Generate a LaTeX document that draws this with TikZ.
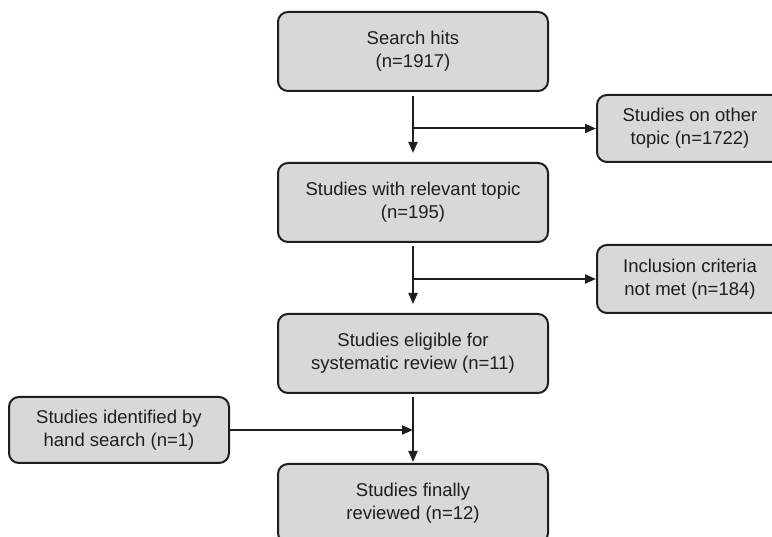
\documentclass[tikz,border=0pt]{standalone}
\usepackage{fontspec}
\setmainfont{Liberation Sans}
\usetikzlibrary{arrows.meta}
\definecolor{boxfill}{RGB}{216,216,216}
\definecolor{ink}{RGB}{30,30,30}
\tikzset{
  flowbox/.style={draw=ink, fill=boxfill, line width=2pt, rounded corners=10pt,
    align=center, text=ink, inner sep=0pt,
    font=\fontsize{18.5}{23}\selectfont},
  conn/.style={draw=ink, line width=2pt, -{Triangle[length=11pt,width=9pt]}},
  plain/.style={draw=ink, line width=2pt},
}
\begin{document}
\begin{tikzpicture}[x=1pt,y=-1pt]
\useasboundingbox (0,0) rectangle (772,537);
\clip (0,0) rectangle (772,537);
\node[flowbox, minimum width=270pt, minimum height=79pt] (b1) at (413,51.5) {Search hits\\(n=1917)};
\node[flowbox, minimum width=270pt, minimum height=79pt] (b2) at (413,202.5) {Studies with relevant topic\\(n=195)};
\node[flowbox, minimum width=270pt, minimum height=79pt] (b3) at (413,353.5) {Studies eligible for\\systematic review (n=11)};
\node[flowbox, minimum width=270pt, minimum height=79pt] (b4) at (413,503.5) {Studies finally\\reviewed (n=12)};
\node[flowbox, minimum width=186pt, minimum height=67pt] (r1) at (690,128.5) {Studies on other\\topic (n=1722)};
\node[flowbox, minimum width=186pt, minimum height=68pt] (r2) at (690,279) {Inclusion criteria\\not met (n=184)};
\node[flowbox, minimum width=220pt, minimum height=66pt] (l1) at (119,430) {Studies identified by\\hand search (n=1)};
\coordinate (j1) at (b1.south |- r1.west);
\coordinate (j2) at (b2.south |- r2.west);
\coordinate (j3) at (b3.south |- l1.east);
\draw[conn, shorten <=4pt, shorten >=9pt] (b1.south) -- (b2.north);
\draw[conn] (j1) -- (r1.west);
\draw[conn, shorten <=3pt, shorten >=9pt] (b2.south) -- (b3.north);
\draw[conn] (j2) -- (r2.west);
\draw[conn, shorten <=3pt, shorten >=1pt] (b3.south) -- (b4.north);
\draw[conn] (l1.east) -- (j3);
\end{tikzpicture}
\end{document}
